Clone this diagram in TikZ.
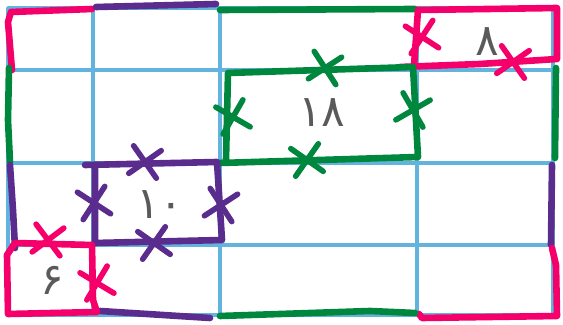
\documentclass[tikz,border=0pt]{standalone}
\usepackage{fontspec}
\usepackage{tikz}
\usetikzlibrary{shapes.misc}
\newfontfamily\persiannum[Script=Arabic]{DejaVu Sans}
\definecolor{gridblue}{HTML}{62B3DD}
\definecolor{pinkred}{HTML}{F5006A}
\definecolor{grape}{HTML}{5A2C8E}
\definecolor{leaf}{HTML}{00873E}
\definecolor{digitgray}{HTML}{5A5A5A}
\tikzset{
    every picture/.style={line cap=round,line join=round},
    gridline/.style={draw=gridblue,line width=1.7pt},
    pen/.style={draw=#1,line width=3.3pt},
    xmark/.style={cross out,draw=#1,line width=2.8pt,
      minimum size=14pt,inner sep=0pt,outer sep=0pt},
    numlabel/.style={text=digitgray,inner sep=0pt,
      font=\persiannum\fontsize{22}{22}\selectfont}
}
\begin{document}
\begin{tikzpicture}[x=0.5pt,y=-0.5pt]
    \useasboundingbox (0,0) rectangle (563,325);
    % grid
    \draw[gridline] (8,8) rectangle (553,315);
    \foreach \gx in {93,220,417} \draw[gridline] (\gx,8) -- (\gx,315);
    \foreach \gy in {70,163,245} \draw[gridline] (8,\gy) -- (553,\gy);

    % outer border
    \draw[pen=pinkred] (12,70) -- (8,22) -- (11,12) -- (92,9);
    \draw[pen=grape] (96,7) -- (216,4);
    \draw[pen=leaf] (220,10) -- (415,9);
    \draw[pen=leaf] (9,68) -- (8,120) -- (10,162);
    \draw[pen=grape] (10,165) -- (13,210) -- (15,248);
    \draw[pen=leaf] (556,68) -- (555,158);
    \draw[pen=grape] (552,165) -- (551,245);
    \draw[pen=pinkred] (552,248) -- (556,265) -- (557,316) -- (422,318) -- (419,314);
    \draw[pen=leaf] (220,316) -- (370,311) -- (415,313);
    \draw[pen=grape] (100,311) -- (210,318);

    % inner rectangles
    \draw[pen=pinkred] (400,67) -- (480,64) -- (557,59) -- (557,8) -- (418,10) -- (414,66);
    \draw[pen=leaf] (220,163) -- (418,157) -- (413,67) -- (228,73) -- (226,160);
    \draw[pen=grape] (85,165) -- (217,162) -- (222,240) -- (95,243) -- (95,168);
    \draw[pen=pinkred] (92,245) -- (15,243) -- (7,255) -- (8,314) -- (97,312) -- (93,300) -- cycle;

    % crossings
    \node[xmark=pinkred,rotate=12] (c8left) at (422,37) {};
    \node[xmark=pinkred,rotate=-10] (c8bottom) at (513,62) {};
    \node[xmark=leaf,rotate=-12] (c18top) at (325,68) {};
    \node[xmark=leaf,rotate=15] (c18left) at (233,117) {};
    \node[xmark=leaf,rotate=-15] (c18right) at (413,110) {};
    \node[xmark=leaf,rotate=10] (c18bottom) at (307,160) {};
    \node[xmark=grape,rotate=-10] (c10top) at (145,162) {};
    \node[xmark=grape,rotate=12] (c10left) at (94,203) {};
    \node[xmark=grape,rotate=-12] (c10right) at (221,205) {};
    \node[xmark=grape,rotate=10] (c10bottom) at (154,243) {};
    \node[xmark=pinkred,rotate=-8] (c6top) at (48,240) {};
    \node[xmark=pinkred,rotate=14] (c6right) at (97,283) {};

    % numbers
    \node[numlabel] (eight) at (487,42) {۸};
    \node[numlabel] (eighteen) at (322,113) {۱۸};
    \node[numlabel] (ten) at (160,205) {۱۰};
    \node[numlabel] (six) at (52,280) {۶};
\end{tikzpicture}
\end{document}
